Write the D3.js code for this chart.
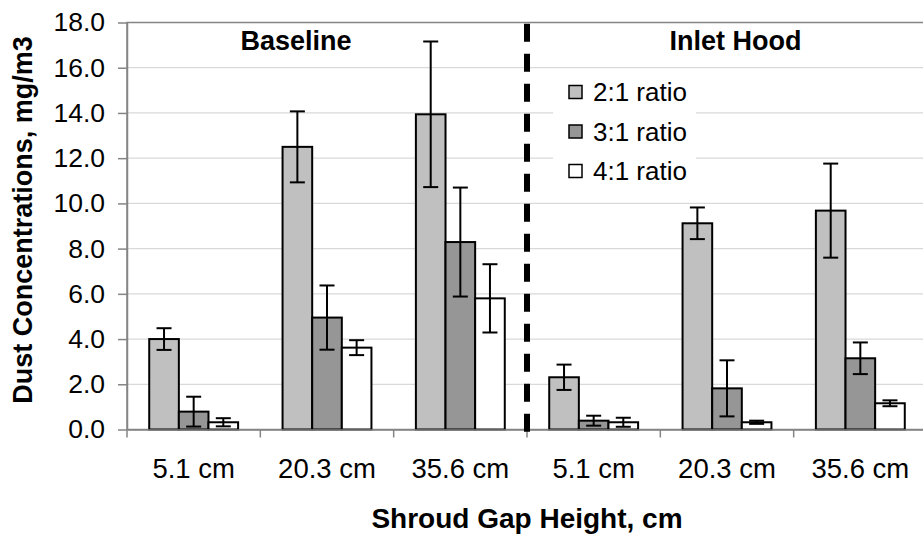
<!DOCTYPE html>
<html>
  <head>
    <meta charset='utf-8'>
    <title>Dust concentrations</title>
    <script src='https://d3js.org/d3.v7.min.js'></script>
    <style>
      body { margin: 0; background: #fff; }
      text { font-family: 'Liberation Sans', Arial, sans-serif; fill: #000; }
    </style>
  </head>

  <body>
    <div id='grafico'></div>
    <script>
    // Data
    const conditions = ['Baseline', 'Inlet Hood'];
    const gaps = ['5.1 cm', '20.3 cm', '35.6 cm'];
    const series = ['2:1 ratio', '3:1 ratio', '4:1 ratio'];
    const colors = ['#c0c0c0', '#969696', '#ffffff'];

    // one value per category (condition x gap), in the order above
    const ratio21 = [4.0, 12.5, 13.94, 2.31, 9.12, 9.68];
    const ratio31 = [0.79, 4.95, 8.29, 0.39, 1.82, 3.15];
    const ratio41 = [0.32, 3.62, 5.80, 0.32, 0.32, 1.16];
    const err21 = [0.48, 1.57, 3.22, 0.56, 0.70, 2.08];
    const err31 = [0.66, 1.42, 2.41, 0.22, 1.24, 0.70];
    const err41 = [0.18, 0.33, 1.51, 0.20, 0.07, 0.13];
    const yTicks = [0, 2, 4, 6, 8, 10, 12, 14, 16, 18];

    const values = [ratio21, ratio31, ratio41];
    const errors = [err21, err31, err41];

    const W = 923, H = 534;
    const plot = { left: 127, right: 927, top: 22.5, bottom: 429.5 };

    const svg = d3.select('#grafico').append('svg')
      .attr('width', W).attr('height', H);

    const cats = [];
    conditions.forEach(c => gaps.forEach(g => cats.push({ key: c + '|' + g, cond: c, gap: g })));

    const data = [];
    cats.forEach((c, i) => series.forEach((s, j) => {
      data.push({ cat: c.key, s: s, j: j, v: values[j][i], e: errors[j][i] });
    }));

    // Scales
    const x = d3.scaleBand().domain(cats.map(d => d.key))
      .range([plot.left, plot.right]).padding(0);
    const xs = d3.scaleBand().domain(series)
      .range([0, x.bandwidth()]).paddingInner(0).paddingOuter(0.75);
    const y = d3.scaleLinear().domain([0, 18]).range([plot.bottom, plot.top]);

    // Gridlines
    svg.append('g').selectAll('line').data(yTicks.slice(1, -1)).enter().append('line')
      .attr('x1', plot.left).attr('x2', plot.right)
      .attr('y1', d => y(d)).attr('y2', d => y(d))
      .attr('stroke', '#d9d9d9').attr('stroke-width', 1.2);

    // Plot border
    svg.append('rect')
      .attr('x', plot.left).attr('y', plot.top)
      .attr('width', plot.right - plot.left).attr('height', plot.bottom - plot.top)
      .attr('fill', 'none').attr('stroke', '#858585').attr('stroke-width', 1.5);

    // Legend background (hides gridlines behind it)
    svg.append('rect')
      .attr('x', 553).attr('y', 74).attr('width', 143).attr('height', 116)
      .attr('fill', '#fff');

    // Bars
    const bars = svg.append('g');
    bars.selectAll('rect').data(data).enter().append('rect')
      .attr('x', d => x(d.cat) + xs(d.s))
      .attr('y', d => y(d.v))
      .attr('width', xs.bandwidth())
      .attr('height', d => y(0) - y(d.v))
      .attr('fill', d => colors[d.j])
      .attr('stroke', '#000').attr('stroke-width', 2);

    // Error bars
    const eb = svg.append('g').attr('stroke', '#000').attr('stroke-width', 2);
    const cx = d => x(d.cat) + xs(d.s) + xs.bandwidth() / 2;
    eb.selectAll('line.v').data(data).enter().append('line').attr('class', 'v')
      .attr('x1', cx).attr('x2', cx)
      .attr('y1', d => y(d.v + d.e)).attr('y2', d => y(Math.max(0, d.v - d.e)));
    eb.selectAll('line.t').data(data).enter().append('line').attr('class', 't')
      .attr('x1', d => cx(d) - 7.5).attr('x2', d => cx(d) + 7.5)
      .attr('y1', d => y(d.v + d.e)).attr('y2', d => y(d.v + d.e));
    eb.selectAll('line.b').data(data).enter().append('line').attr('class', 'b')
      .attr('x1', d => cx(d) - 7.5).attr('x2', d => cx(d) + 7.5)
      .attr('y1', d => y(Math.max(0, d.v - d.e))).attr('y2', d => y(Math.max(0, d.v - d.e)));

    // Y axis
    const yAxis = d3.axisLeft(y).tickValues(yTicks).tickFormat(d3.format('.1f'))
      .tickSize(9).tickSizeOuter(0).tickPadding(13);
    const gy = svg.append('g').attr('transform', 'translate(' + plot.left + ',0)').call(yAxis);
    gy.selectAll('line, path').attr('stroke', '#858585').attr('stroke-width', 1.5);
    gy.selectAll('text').style('font-size', '26.5px')
      .style('font-family', "'Liberation Sans', Arial, sans-serif");

    // X axis: labels centered on categories, ticks on boundaries
    const xAxis = d3.axisBottom(x).tickFormat(k => k.split('|')[1])
      .tickSize(0).tickSizeOuter(0).tickPadding(29);
    const gx = svg.append('g').attr('transform', 'translate(0,' + plot.bottom + ')').call(xAxis);
    gx.select('path').attr('stroke', '#858585').attr('stroke-width', 1.5);
    gx.selectAll('text').style('font-size', '27.5px')
      .style('font-family', "'Liberation Sans', Arial, sans-serif");
    const bounds = cats.map(d => x(d.key)).concat([plot.right]);
    gx.selectAll('line.bound').data(bounds).enter().append('line').attr('class', 'bound')
      .attr('x1', d => d).attr('x2', d => d).attr('y1', 0).attr('y2', 8)
      .attr('stroke', '#858585').attr('stroke-width', 1.5);

    // Dashed separator between conditions
    const sepX = x(cats[3].key);
    svg.append('line')
      .attr('x1', sepX).attr('x2', sepX)
      .attr('y1', y(17.95)).attr('y2', plot.bottom + 4)
      .attr('stroke', '#000').attr('stroke-width', 6)
      .attr('stroke-dasharray', '18,12');

    // Condition labels
    svg.append('text').attr('x', 296).attr('y', y(16.8))
      .attr('text-anchor', 'middle').style('font-size', '27px').style('font-weight', 'bold')
      .text(conditions[0]);
    svg.append('text').attr('x', 735.5).attr('y', y(16.8))
      .attr('text-anchor', 'middle').style('font-size', '27px').style('font-weight', 'bold')
      .text(conditions[1]);

    // Legend
    const lg = svg.append('g').selectAll('g').data(series).enter().append('g')
      .attr('transform', (d, i) => 'translate(569,' + (92 + i * 39.5) + ')');
    lg.append('rect').attr('x', 0).attr('y', -6.5).attr('width', 13).attr('height', 13)
      .attr('fill', (d, i) => colors[i]).attr('stroke', '#000').attr('stroke-width', 1.5);
    lg.append('text').attr('x', 24).attr('y', 0).attr('dy', '0.35em')
      .style('font-size', '26px').text(d => d);

    // Axis titles
    svg.append('text').attr('x', 527).attr('y', 528)
      .attr('text-anchor', 'middle').style('font-size', '28px').style('font-weight', 'bold')
      .text('Shroud Gap Height, cm');
    svg.append('text').attr('transform', 'translate(32,220) rotate(-90)')
      .attr('text-anchor', 'middle').style('font-size', '27px').style('font-weight', 'bold')
      .text('Dust Concentrations, mg/m3');
    </script>
  </body>
</html>
